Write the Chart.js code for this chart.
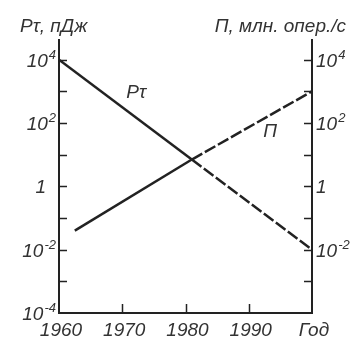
<!DOCTYPE html>
<html>
<head>
<meta charset="utf-8">
<script src="https://cdn.jsdelivr.net/npm/chart.js@4.4.1/dist/chart.umd.min.js"></script>
<style>
  html, body { margin: 0; padding: 0; background: #fff; }
  canvas { display: block; }
</style>
</head>
<body>
<canvas id="c" width="363" height="340"></canvas>
<script>
// Energy per operation Pτ (pJ) and speed П (million operations/s), by year
const years = [1960, 1970, 1980, 1990, 2000];
const yearLabels = ['1960', '1970', '1980', '1990', 'Год'];
const ptYears = [1960, 1981, 2000];
const ptValues = [10000, 7, 0.01];
const pYears = [1962.5, 1981, 2000];
const pValues = [0.04, 7, 1000];
const decadeTicks = [1e-4, 1e-3, 1e-2, 1e-1, 1, 10, 100, 1000, 10000];
const leftLabelExps = [4, 2, 0, -2, -4];
const rightLabelExps = [4, 2, 0, -2];
const leftTitle = 'Pτ, пДж';
const rightTitle = 'П, млн. опер./с';
const seriesNames = ['Pτ', 'П'];
// where the curve names sit, in data units (year, value)
const nameAnchors = [[1972.2, 1000], [1993.4, 60]];

const INK = '#222';
const TEXT = '#333';
const FONT = 'italic 19px "Liberation Sans", "DejaVu Sans", sans-serif';
const SUP = 'italic 13px "Liberation Sans", "DejaVu Sans", sans-serif';
const yMax = Math.pow(10, 4.62);

function pts(xs, ys) { return xs.map((x, i) => ({ x: x, y: ys[i] })); }

// solid up to the crossing point, dashed after it
const dashAfterCross = { borderDash: ctx => ctx.p0DataIndex >= 1 ? [12, 3] : undefined };

// draws 10 with a raised exponent; align 'right' or 'left' relative to x
function drawPow(ctx, exp, x, y, align) {
  if (exp === 0) {
    ctx.font = FONT;
    ctx.textAlign = 'left';
    const w = ctx.measureText('1').width;
    ctx.fillText('1', align === 'right' ? x - 10 - w : x, y + 7);
    return;
  }
  const base = '10';
  const sup = String(exp);
  ctx.font = FONT;
  const wb = ctx.measureText(base).width;
  ctx.font = SUP;
  const ws = ctx.measureText(sup).width;
  const x0 = align === 'right' ? x - wb - ws - 1 : x;
  ctx.textAlign = 'left';
  ctx.font = FONT;
  ctx.fillText(base, x0, y + 7);
  ctx.font = SUP;
  ctx.fillText(sup, x0 + wb + 1, y - 1);
}

const decor = {
  id: 'decor',
  afterDraw(chart) {
    const ctx = chart.ctx;
    const xs = chart.scales.x, ys = chart.scales.y, y2 = chart.scales.y2;
    const a = chart.chartArea;
    ctx.save();
    // inward tick marks
    ctx.strokeStyle = INK;
    ctx.lineWidth = 1.5;
    ctx.beginPath();
    decadeTicks.forEach(v => {
      const py = Math.round(ys.getPixelForValue(v)) + 0.5;
      if (py < a.bottom - 2) {
        ctx.moveTo(a.left, py); ctx.lineTo(a.left + 8, py);
        ctx.moveTo(a.right, py); ctx.lineTo(a.right - 8, py);
      }
    });
    years.forEach(v => {
      const px = Math.round(xs.getPixelForValue(v)) + 0.5;
      if (px > a.left + 2 && px < a.right - 2) {
        ctx.moveTo(px, a.bottom); ctx.lineTo(px, a.bottom - 9);
      }
    });
    ctx.stroke();

    ctx.fillStyle = TEXT;
    ctx.textBaseline = 'alphabetic';
    // left and right axis labels
    leftLabelExps.forEach(e => drawPow(ctx, e, a.left - 3, ys.getPixelForValue(Math.pow(10, e)), 'right'));
    rightLabelExps.forEach(e => drawPow(ctx, e, a.right + 4, y2.getPixelForValue(Math.pow(10, e)), 'left'));
    // year labels
    ctx.font = FONT;
    ctx.textAlign = 'center';
    years.forEach((v, i) => ctx.fillText(yearLabels[i], xs.getPixelForValue(v) + 2, a.bottom + 23));
    // axis titles
    ctx.textAlign = 'left';
    ctx.fillText(leftTitle, 20, 32);
    ctx.textAlign = 'right';
    ctx.fillText(rightTitle, 346, 32);
    // curve names
    ctx.textAlign = 'center';
    nameAnchors.forEach((p, i) => {
      ctx.fillText(seriesNames[i], xs.getPixelForValue(p[0]), ys.getPixelForValue(p[1]) + 7);
    });
    ctx.restore();
  }
};

const axisBorder = { display: true, color: INK, width: 2 };

new Chart(document.getElementById('c'), {
  type: 'line',
  data: {
    datasets: [
      { label: seriesNames[0], data: pts(ptYears, ptValues), borderColor: INK, borderWidth: 2.5,
        pointRadius: 0, tension: 0, segment: dashAfterCross, yAxisID: 'y' },
      { label: seriesNames[1], data: pts(pYears, pValues), borderColor: INK, borderWidth: 2.5,
        pointRadius: 0, tension: 0, segment: dashAfterCross, yAxisID: 'y' }
    ]
  },
  options: {
    responsive: false,
    animation: false,
    devicePixelRatio: 1,
    layout: { padding: { left: 59, right: 51, top: 40, bottom: 27 } },
    plugins: { legend: { display: false }, tooltip: { enabled: false } },
    scales: {
      x: { type: 'linear', min: 1960, max: 2000, position: 'bottom',
           ticks: { display: false }, grid: { display: false, drawTicks: false }, border: axisBorder },
      y: { type: 'logarithmic', min: 1e-4, max: yMax, position: 'left',
           ticks: { display: false }, grid: { display: false, drawTicks: false }, border: axisBorder },
      y2: { type: 'logarithmic', min: 1e-4, max: yMax, position: 'right', display: true,
            ticks: { display: false }, grid: { display: false, drawTicks: false }, border: axisBorder }
    }
  },
  plugins: [decor]
});
</script>
</body>
</html>
